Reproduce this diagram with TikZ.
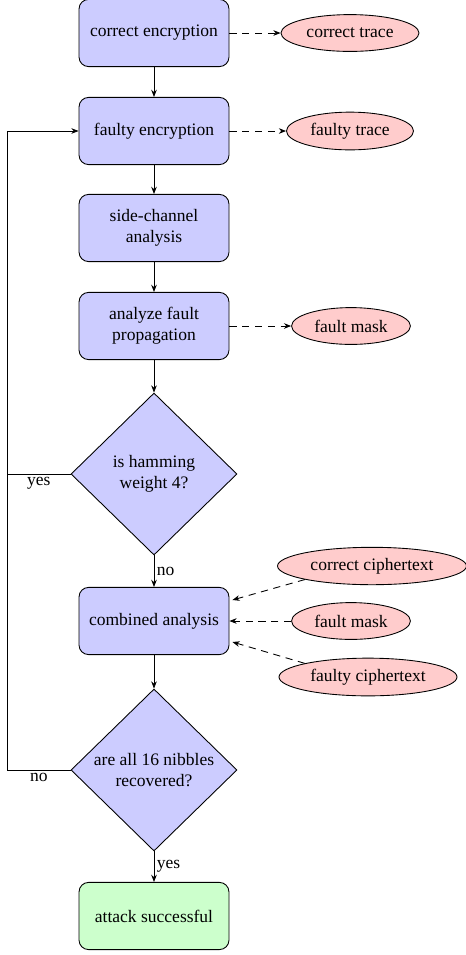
\documentclass[tikz,border=0pt]{standalone}
\usepackage{fontspec}
\setmainfont{Liberation Serif}
\usetikzlibrary{shapes.geometric,arrows.meta,calc}
\begin{document}
\begin{tikzpicture}[x=0.625pt,y=-0.625pt,line width=0.55pt,
  every node/.style={font=\fontsize{10.95}{13}\selectfont},
  proc/.style={draw,rounded corners=6pt,fill=blue!20,minimum width=93.75pt,minimum height=42pt,align=center,inner sep=2pt},
  okbox/.style={proc,fill=green!20},
  dec/.style={draw,diamond,fill=blue!20,aspect=1,inner sep=0pt,minimum width=103.75pt,minimum height=101.25pt,align=center},
  data/.style={draw,ellipse,fill=red!20,inner sep=3.3pt,minimum height=23pt},
  flow/.style={-{Stealth[length=4.5pt,width=3.5pt]}},
  dflow/.style={dash pattern=on 4.5pt off 3.5pt,-{Stealth[length=4.5pt,width=3.5pt]}},
  lbl/.style={inner sep=1.5pt}
]
\useasboundingbox (0,0) rectangle (466,955);
\node[proc] (ce) at (154,33) {correct encryption};
\node[data] (ct) at (350,33) {correct trace};
\node[proc] (fe) at (154,131) {faulty encryption};
\node[data] (ft) at (350,131) {faulty trace};
\node[proc] (sc) at (154,228) {side-channel\\analysis};
\node[proc] (af) at (154,326) {analyze fault\\propagation};
\node[data] (fm) at (351,326) {fault mask};
\node[dec] (hw) at (154,474) {is hamming\\weight 4?};
\node[proc] (ca) at (154,621) {combined analysis};
\node[data] (cc) at (372,566) {correct ciphertext};
\node[data] (fm2) at (351,621) {fault mask};
\node[data] (fc) at (368,677) {faulty ciphertext};
\node[dec] (an) at (154,770) {are all 16 nibbles\\recovered?};
\node[okbox] (as) at (154,916) {attack successful};
\coordinate (loop) at (7,131);

\draw[flow] (ce) -- (fe);
\draw[flow] (fe) -- (sc);
\draw[flow] (sc) -- (af);
\draw[flow] (af) -- (hw);
\draw[flow] (hw) -- node[lbl,right] {no} (ca);
\draw[flow] (ca) -- (an);
\draw[flow] (an) -- node[lbl,right] {yes} (as);

\draw[dflow] (ce) -- (ct);
\draw[dflow] (fe) -- (ft);
\draw[dflow] (af) -- (fm);
\draw[dflow] (cc.south west) -- ($(ca.east)+(3,-21)$);
\draw[dflow] (fm2) -- (ca);
\draw[dflow] (fc.north west) -- ($(ca.east)+(3,21)$);

\draw[flow] (hw.west) -- node[lbl,below] {yes} (hw.west -| loop) -- (loop) -- (fe.west);
\draw (an.west) -- node[lbl,below] {no} (an.west -| loop) -- (hw.west -| loop);
\end{tikzpicture}
\end{document}
